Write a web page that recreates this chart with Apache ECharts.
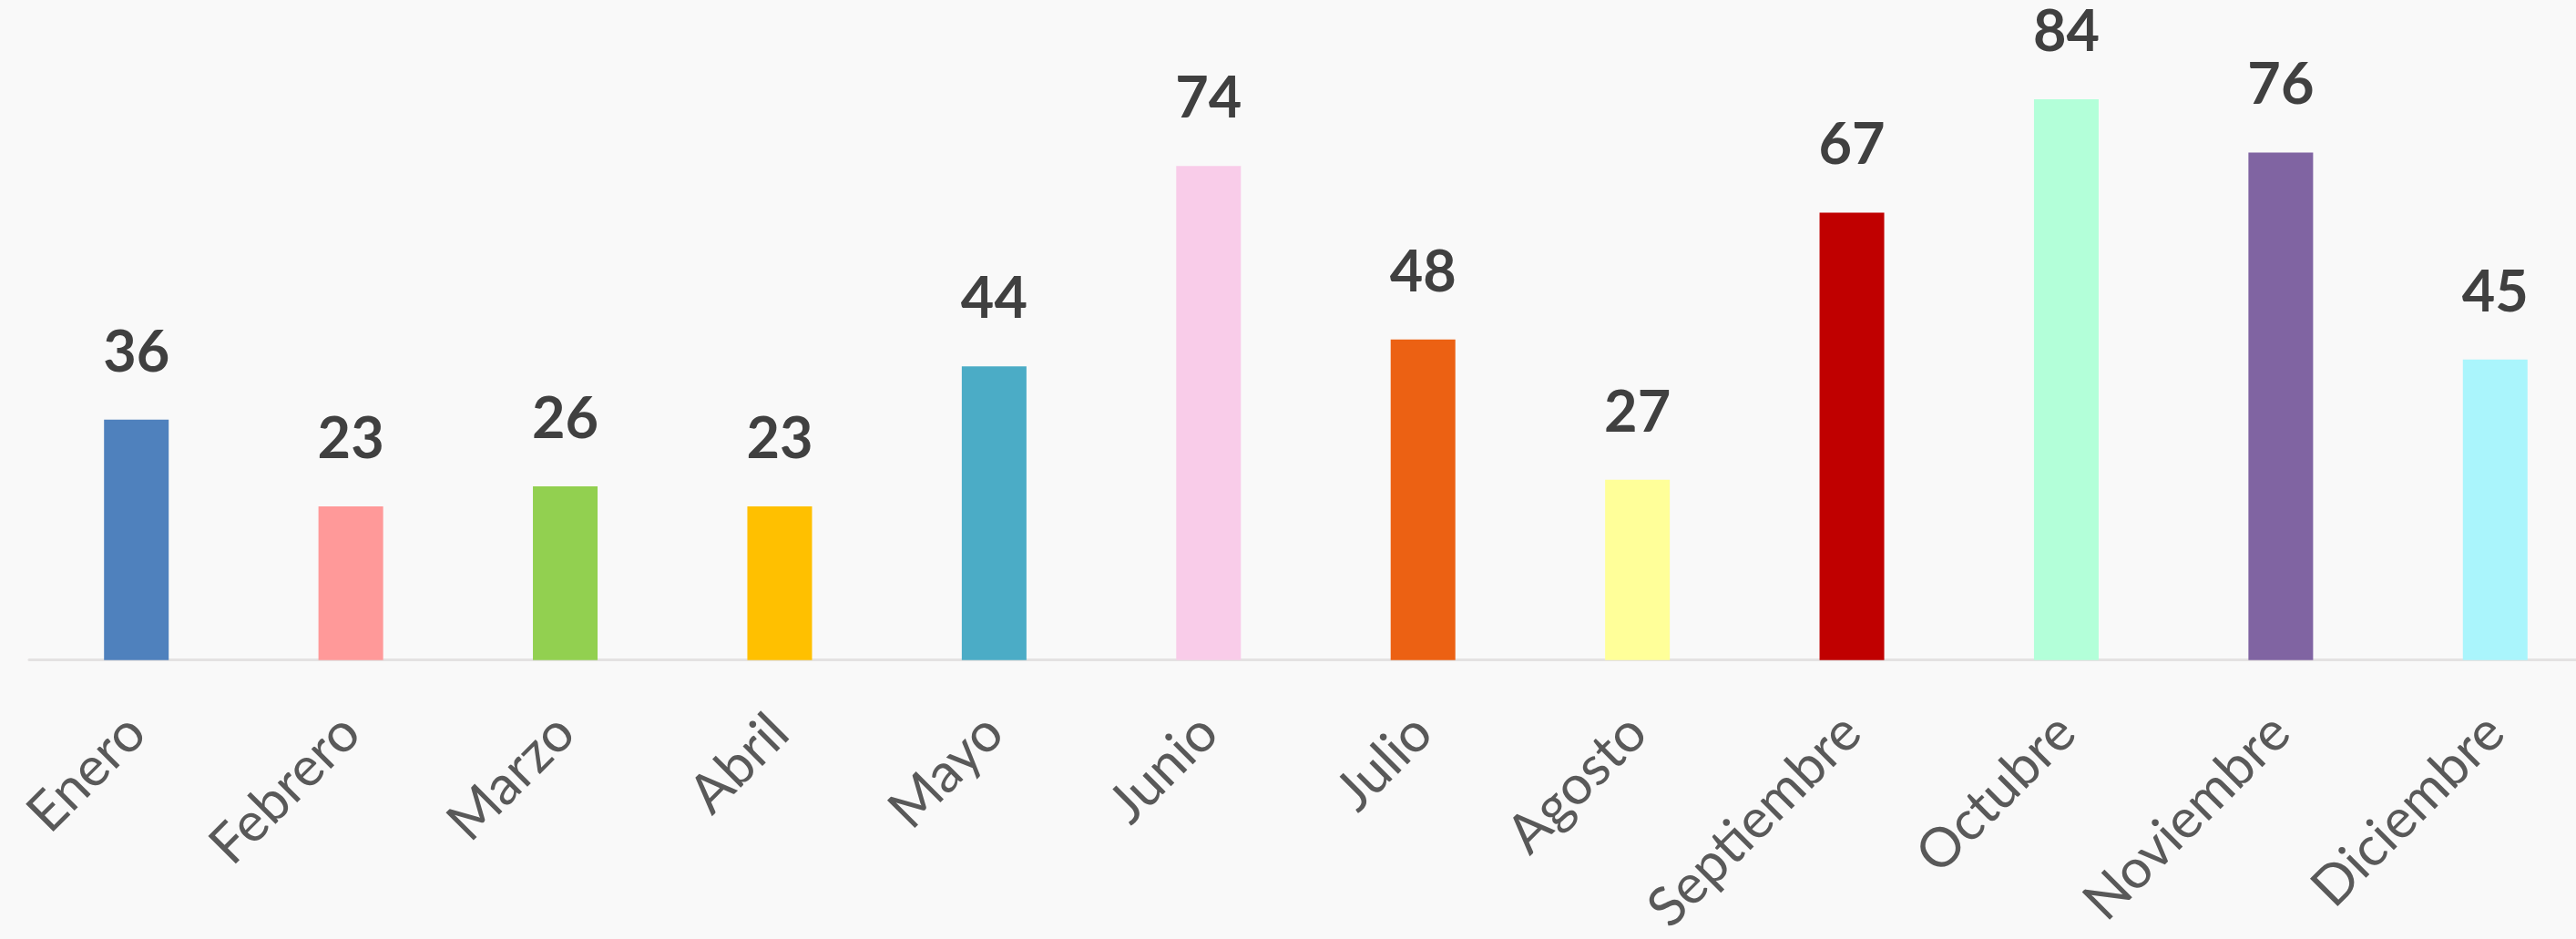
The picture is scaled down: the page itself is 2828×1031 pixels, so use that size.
<!DOCTYPE html>
<html>
<head>
<meta charset="utf-8">
<script src="https://cdn.jsdelivr.net/npm/echarts@6/dist/echarts.min.js"></script>
<style>
html,body{margin:0;padding:0;background:#f9f9f9;overflow:hidden;}
#chart{width:2857px;height:1031px;}
</style>
</head>
<body>
<div id="chart"></div>
<script>
const categories = ['Enero','Febrero','Marzo','Abril','Mayo','Junio','Julio','Agosto','Septiembre','Octubre','Noviembre','Diciembre'];
const values = [36, 23, 26, 23, 44, 74, 48, 27, 67, 84, 76, 45];
const barColors = ['#4f81bd','#ff9999','#92d050','#ffc000','#4bacc6','#f9cce9','#ec6113','#ffff99','#c00000','#b3ffd9','#8064a2','#aaf5fc'];

const chart = echarts.init(document.getElementById('chart'));
chart.setOption({
  backgroundColor: '#f9f9f9',
  animation: false,
  grid: { left: 32, right: 0, top: 65, bottom: 306, containLabel: false },
  xAxis: {
    type: 'category',
    data: categories,
    axisLine: { show: true, lineStyle: { color: '#e4e2e2', width: 3 } },
    axisTick: { show: false },
    axisLabel: {
      rotate: 45, interval: 0, margin: 70,
      color: '#595959', fontFamily: 'Lato', fontSize: 60
    }
  },
  yAxis: {
    type: 'value', min: 0, max: 90, show: false,
    splitLine: { show: false }
  },
  series: [{
    type: 'bar',
    barWidth: 71,
    data: values.map((v, i) => ({ value: v, itemStyle: { color: barColors[i] } })),
    label: {
      show: true, position: 'top', distance: 42,
      color: '#404040', fontFamily: 'Lato', fontWeight: 'bold', fontSize: 63
    }
  }]
});
</script>
</body>
</html>
